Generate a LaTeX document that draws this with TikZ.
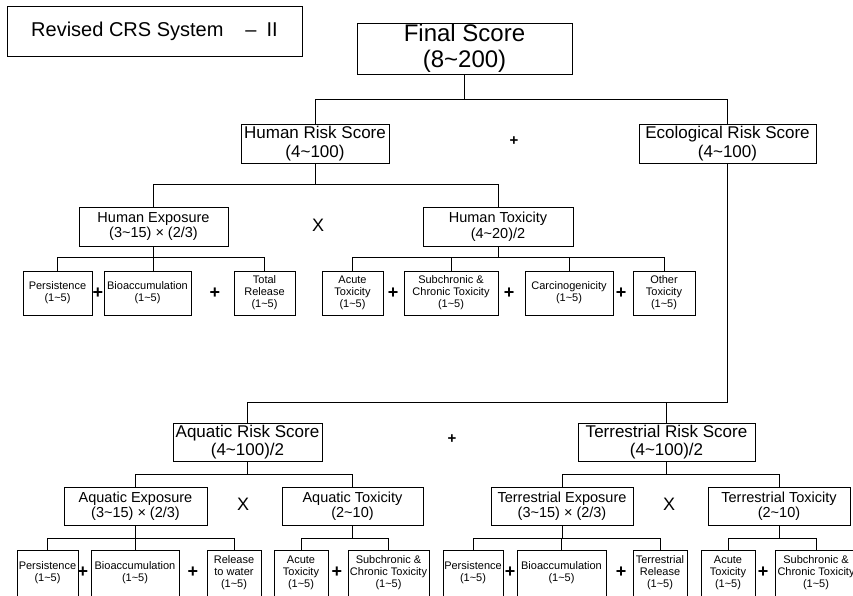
\documentclass[tikz,border=0pt]{standalone}
\usepackage{fontspec}
\setmainfont{Liberation Sans}
\newcommand{\rng}{\textasciitilde}

\begin{document}
\begin{tikzpicture}[x=1pt,y=-1pt,
  cbox/.style={draw,line width=0.9pt,inner sep=0pt,align=center},
  sz/.style 2 args={minimum width=#1pt,minimum height=#2pt},
  topbox/.style={cbox,font=\fontsize{24}{26}\selectfont},
  riskbox/.style={cbox,font=\fontsize{17}{18.5}\selectfont},
  midbox/.style={cbox,font=\fontsize{14.5}{15.5}\selectfont},
  leafbox/.style={cbox,font=\fontsize{11}{12}\selectfont},
  link/.style={line width=0.9pt},
  plusop/.style={font=\fontsize{18}{18}\selectfont\bfseries},
  bigplus/.style={font=\fontsize{15}{15}\selectfont\bfseries},
  timesop/.style={font=\fontsize{18}{18}\selectfont}]
\useasboundingbox (0,0) rectangle (853,595);

% title and final score
\node[cbox,sz={295}{50},font=\fontsize{20}{22}\selectfont] (title) at (154.5,31) {Revised CRS System\hspace{1.1em}--\hspace{0.5em}II};
\node[topbox,sz={215}{51}] (final) at (464.5,48.5) {Final Score\\(8\rng200)};

% human side
\node[riskbox,sz={148}{39}] (hrisk) at (315,143.5) {Human Risk Score\\(4\rng100)};
\node[riskbox,sz={177}{39}] (erisk) at (727.5,143.5) {Ecological Risk Score\\(4\rng100)};
\node[midbox,sz={149}{39}] (hexpo) at (153.5,226.5) {Human Exposure\\(3\rng15) × (2/3)};
\node[midbox,sz={150}{39}] (htox) at (498,226.5) {Human Toxicity\\(4\rng20)/2};
\node[leafbox,sz={69}{44}] (hpers) at (57.5,293) {Persistence\\(1\rng5)};
\node[leafbox,sz={87}{44}] (hbio) at (147.5,293) {Bioaccumulation\\(1\rng5)};
\node[leafbox,sz={61}{44}] (htot) at (264.5,293) {Total\\Release\\(1\rng5)};
\node[leafbox,sz={61}{44}] (hacute) at (352.5,293) {Acute\\Toxicity\\(1\rng5)};
\node[leafbox,sz={94}{44}] (hsub) at (451,293) {Subchronic \&\\Chronic Toxicity\\(1\rng5)};
\node[leafbox,sz={88}{44}] (hcarc) at (569,293) {Carcinogenicity\\(1\rng5)};
\node[leafbox,sz={62}{44}] (hother) at (664,293) {Other\\Toxicity\\(1\rng5)};

% ecological side
\node[riskbox,sz={149}{38}] (aqua) at (247.5,442) {Aquatic Risk Score\\(4\rng100)/2};
\node[riskbox,sz={177}{38}] (terr) at (666.5,442) {Terrestrial Risk Score\\(4\rng100)/2};
\node[midbox,sz={143}{38}] (aexpo) at (135.5,506) {Aquatic Exposure\\(3\rng15) × (2/3)};
\node[midbox,sz={141}{38}] (atox) at (352.5,506) {Aquatic Toxicity\\(2\rng10)};
\node[midbox,sz={142}{38}] (texpo) at (562,506) {Terrestrial Exposure\\(3\rng15) × (2/3)};
\node[midbox,sz={142}{38}] (ttox) at (779,506) {Terrestrial Toxicity\\(2\rng10)};
\node[leafbox,sz={61}{46}] (apers) at (47.5,573) {Persistence\\(1\rng5)};
\node[leafbox,sz={88}{46}] (abio) at (135,573) {Bioaccumulation\\(1\rng5)};
\node[leafbox,sz={54}{46}] (arel) at (234,573) {Release\\to water\\(1\rng5)};
\node[leafbox,sz={54}{46}] (aacute) at (301,573) {Acute\\Toxicity\\(1\rng5)};
\node[leafbox,sz={81}{46}] (asub) at (388.5,573) {Subchronic \&\\Chronic Toxicity\\(1\rng5)};
\node[leafbox,sz={60}{46}] (tpers) at (473,573) {Persistence\\(1\rng5)};
\node[leafbox,sz={89}{46}] (tbio) at (561.5,573) {Bioaccumulation\\(1\rng5)};
\node[leafbox,sz={54}{46}] (trel) at (660,573) {Terrestrial\\Release\\(1\rng5)};
\node[leafbox,sz={54}{46}] (tacute) at (728,573) {Acute\\Toxicity\\(1\rng5)};
\node[leafbox,sz={82}{46}] (tsub) at (816,573) {Subchronic \&\\Chronic Toxicity\\(1\rng5)};

% operators
\node[bigplus] (hplus) at (514,141) {+};
\node[timesop] (hx) at (318,225) {X};
\foreach \x in {98,215,393,509,621}
  \node[plusop] (hp\x) at (\x,293) {+};
\node[bigplus] (eplus) at (452,439) {+};
\node[timesop] (ax) at (243,504) {X};
\node[timesop] (tx) at (669,504) {X};
\foreach \x in {83,193,337,510,621,763}
  \node[plusop] (ep\x) at (\x,572) {+};

% connectors
\foreach \p/\c/\d in {final/hrisk/25,final/erisk/25,hrisk/hexpo/21,hrisk/htox/21,
    erisk/aqua/239,erisk/terr/239,hexpo/hpers/11,hexpo/htot/11,
    htox/hacute/11,htox/hsub/11,htox/hcarc/11,htox/hother/11,
    aqua/aexpo/13,aqua/atox/13,terr/texpo/13,terr/ttox/13,
    aexpo/apers/13,aexpo/abio/13,aexpo/arel/13,atox/aacute/13,atox/asub/13,
    texpo/tpers/13,texpo/tbio/13,texpo/trel/13,ttox/tacute/13,ttox/tsub/13}
  \draw[link] (\p.south) -- ++(0,\d) -| (\c.north);
\draw[link] (hexpo.south) -- (hexpo.south |- hbio.north);
\end{tikzpicture}
\end{document}
